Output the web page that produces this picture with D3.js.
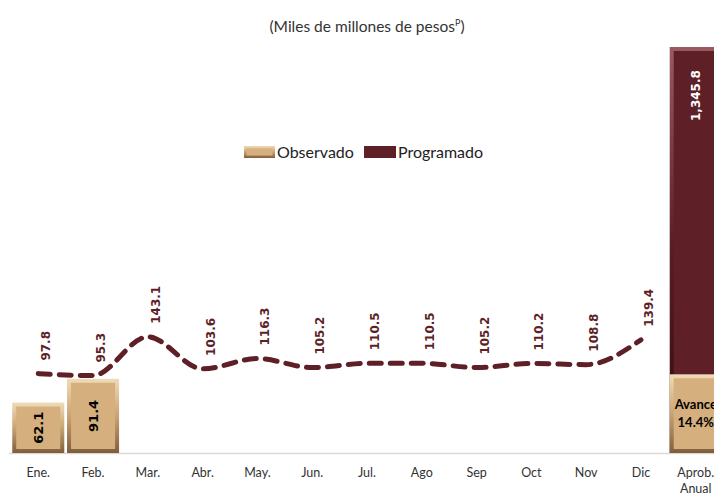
<!DOCTYPE html>
<html>
<head>
<meta charset="utf-8">
<script src="https://cdn.jsdelivr.net/npm/d3@7"></script>
<style>
  body { margin: 0; background: #fff; }
  svg { display: block; }
</style>
</head>
<body>
<div id="chart"></div>
<script>
// datos (miles de millones de pesos)
const meses = ["Ene.", "Feb.", "Mar.", "Abr.", "May.", "Jun.", "Jul.", "Ago", "Sep", "Oct", "Nov", "Dic"];
const observado = [62.1, 91.4];
const programado = [97.8, 95.3, 143.1, 103.6, 116.3, 105.2, 110.5, 110.5, 105.2, 110.2, 108.8, 139.4];
const anualCat = "Aprob. Anual";
const anualProgramado = 1345.8;
const anualObservado = 193.8;
const avanceTxt = "14.4%";

const W = 714, H = 496;
const yBase = 453, yTop = 47;
const maroon = "#5e1f27";
const tan = "#d5af7d";

const svg = d3.select("#chart").append("svg")
  .attr("width", W).attr("height", H);

// degradados para efecto biselado
const defs = svg.append("defs");
function grad(id, stops) {
  const g = defs.append("linearGradient").attr("id", id)
    .attr("x1", 0).attr("y1", 0).attr("x2", 0).attr("y2", 1);
  stops.forEach(s => g.append("stop").attr("offset", s[0]).attr("stop-color", s[1]));
}
grad("bevTan", [[0, "#f0dbb8"], [0.5, "#c9a472"], [1, "#7e5e3a"]]);
grad("bevMar", [[0, "#9a5a60"], [0.5, "#5a1c24"], [1, "#33090d"]]);

const cats = meses.concat([anualCat]);
const x = d3.scaleBand().domain(cats).range([9.5, 9.5 + 55 * cats.length]).padding(0.05);
const y = d3.scaleLinear().domain([0, 500]).range([yBase, yTop]);
// eje secundario para la barra anual (recortada arriba)
const y2 = d3.scaleLinear().domain([0, 1000]).range([yBase, yTop]).clamp(true);

function bevelBar(g, x0, y0, w, h, outer, inner, inset) {
  g.append("rect").attr("x", x0).attr("y", y0).attr("width", w).attr("height", h)
    .attr("fill", `url(#${outer})`);
  g.append("rect").attr("x", x0 + inset).attr("y", y0 + inset)
    .attr("width", Math.max(0, w - 2 * inset)).attr("height", Math.max(0, h - 2 * inset))
    .attr("fill", inner);
}

// eje x
svg.append("line").attr("x1", 9).attr("x2", W).attr("y1", yBase + 0.5).attr("y2", yBase + 0.5)
  .attr("stroke", "#d9d9d9").attr("stroke-width", 1.5);

// barra anual
const ga = svg.append("g");
bevelBar(ga, x(anualCat), y2(anualProgramado), x.bandwidth(), yBase - y2(anualProgramado), "bevMar", maroon, 4);
bevelBar(ga, x(anualCat), y2(anualObservado), x.bandwidth(), yBase - y2(anualObservado), "bevTan", tan, 4);
ga.append("text")
  .attr("transform", `translate(${x(anualCat) + x.bandwidth() / 2 + 4},${y2(anualProgramado) + 74}) rotate(-90)`)
  .attr("font-family", "DejaVu Sans").attr("font-weight", "bold").attr("font-size", 12)
  .attr("fill", "#fff").text(d3.format(",.1f")(anualProgramado));
const cxA = x(anualCat) + x.bandwidth() / 2;
ga.append("text").attr("x", cxA).attr("y", 409).attr("text-anchor", "middle")
  .attr("font-family", "Lato").attr("font-weight", "bold").attr("font-size", 13).attr("fill", "#000")
  .text("Avance");
ga.append("text").attr("x", cxA).attr("y", 427).attr("text-anchor", "middle")
  .attr("font-family", "Lato").attr("font-weight", "bold").attr("font-size", 13).attr("fill", "#000")
  .text(avanceTxt);

// barras observado
const gb = svg.append("g");
observado.forEach((v, i) => {
  const m = meses[i];
  bevelBar(gb, x(m), y(v), x.bandwidth(), yBase - y(v), "bevTan", tan, 4);
  const cy = (y(v) + yBase) / 2;
  gb.append("text")
    .attr("transform", `translate(${x(m) + x.bandwidth() / 2 + 5},${cy}) rotate(-90)`)
    .attr("text-anchor", "middle")
    .attr("font-family", "DejaVu Sans").attr("font-weight", "bold").attr("font-size", 13)
    .attr("fill", "#000").text(d3.format(".1f")(v));
});

// linea programado
const line = d3.line()
  .x((d, i) => x(meses[i]) + x.bandwidth() / 2)
  .y(d => y(d))
  .curve(d3.curveMonotoneX);
svg.append("path").datum(programado).attr("d", line)
  .attr("fill", "none").attr("stroke", maroon).attr("stroke-width", 5)
  .attr("stroke-linecap", "round").attr("stroke-dasharray", "12,9");

// etiquetas programado
svg.append("g").selectAll("text").data(programado).join("text")
  .attr("transform", (d, i) => `translate(${x(meses[i]) + x.bandwidth() / 2 + 12},${y(d) - 13}) rotate(-90)`)
  .attr("font-family", "DejaVu Sans").attr("font-weight", "bold").attr("font-size", 12)
  .attr("fill", maroon).text(d => d3.format(".1f")(d));

// etiquetas de categorias
const gx = svg.append("g").attr("font-family", "Lato").attr("font-size", 12.5).attr("fill", "#333");
cats.forEach(c => {
  const parts = c.split(" ");
  const t = gx.append("text").attr("x", x(c) + x.bandwidth() / 2).attr("y", 477).attr("text-anchor", "middle");
  parts.forEach((p, k) => t.append("tspan").attr("x", x(c) + x.bandwidth() / 2).attr("dy", k ? 16 : 0).text(p));
});

// titulo
const tt = svg.append("text").attr("x", 367).attr("y", 32).attr("text-anchor", "middle")
  .attr("font-family", "Lato").attr("font-size", 15.5).attr("fill", "#333");
tt.append("tspan").text("(Miles de millones de pesos");
tt.append("tspan").attr("font-size", 9).attr("dy", -6).text("P");
tt.append("tspan").attr("dy", 6).text(")");

// leyenda
const lg = svg.append("g").attr("font-family", "Lato").attr("font-size", 16).attr("fill", "#222");
bevelBar(lg, 244, 146, 31, 12, "bevTan", tan, 2.5);
lg.append("text").attr("x", 277).attr("y", 158).text("Observado");
lg.append("rect").attr("x", 364).attr("y", 146).attr("width", 32).attr("height", 12).attr("fill", maroon);
lg.append("text").attr("x", 398).attr("y", 158).text("Programado");
</script>
</body>
</html>
